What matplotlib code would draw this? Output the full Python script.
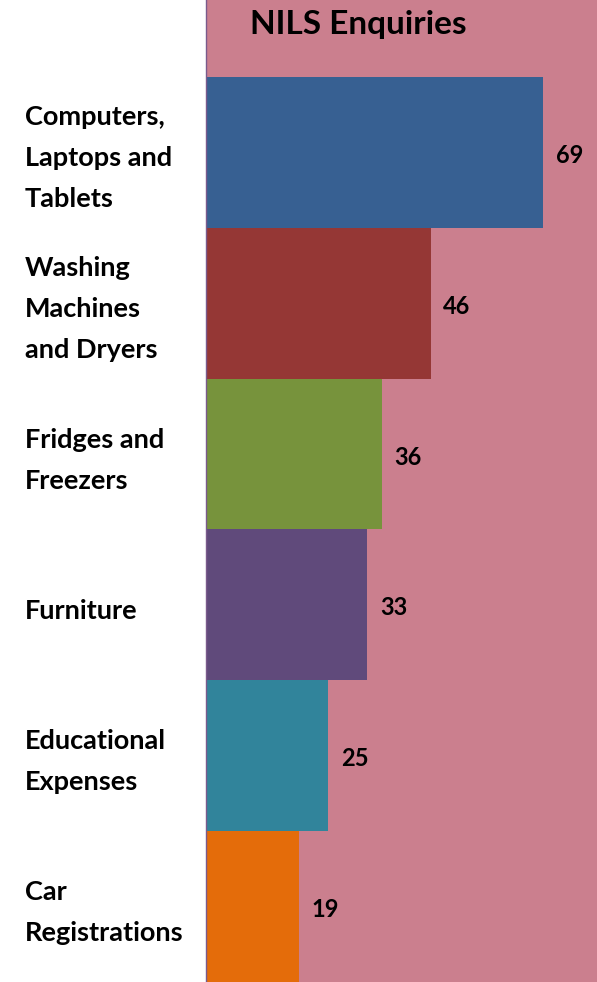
import matplotlib.pyplot as plt

categories = ['Computers,\nLaptops and\nTablets', 'Washing\nMachines\nand Dryers',
              'Fridges and\nFreezers', 'Furniture', 'Educational\nExpenses',
              'Car\nRegistrations']
values = [69, 46, 36, 33, 25, 19]
colors = ['#376092', '#953735', '#77933C', '#604A7B', '#31849B', '#E46C0A']

W, H = 597, 982
fig = plt.figure(figsize=(W / 100, H / 100), dpi=100)
ax = fig.add_axes([206 / W, 0, 391 / W, 1])
ax.set_facecolor('#CB7F8E')

pos = list(range(len(values)))
ax.barh(pos, values, height=1.0, color=colors, edgecolor='none')
ax.set_xlim(0, 80)
ax.set_ylim(5.5, -1.01)

font = 'Lato'
for p, v in zip(pos, values):
    ax.annotate(str(v), (v, p + 0.02), xytext=(9, 0), textcoords='offset points',
                ha='left', va='center', fontsize=17, fontweight='bold',
                family=font, color='black')

# category labels sit in the white margin on the left
for p, c in zip(pos, categories):
    y_disp = ax.transData.transform((0, p + 0.04))[1]
    fig.text(25 / W, y_disp / H, c, ha='left', va='center', fontsize=19.5,
             fontweight='bold', family=font, linespacing=1.85)

fig.text(358 / W, (H - 34) / H, 'NILS Enquiries', ha='center', va='baseline',
         fontsize=24, fontweight='bold', family=font)

ax.set_xticks([])
ax.set_yticks([])
for s in ['top', 'right', 'bottom']:
    ax.spines[s].set_visible(False)
ax.spines['left'].set_color('#7a5a8c')
ax.spines['left'].set_linewidth(1)

fig.savefig('out.png', dpi=100)
